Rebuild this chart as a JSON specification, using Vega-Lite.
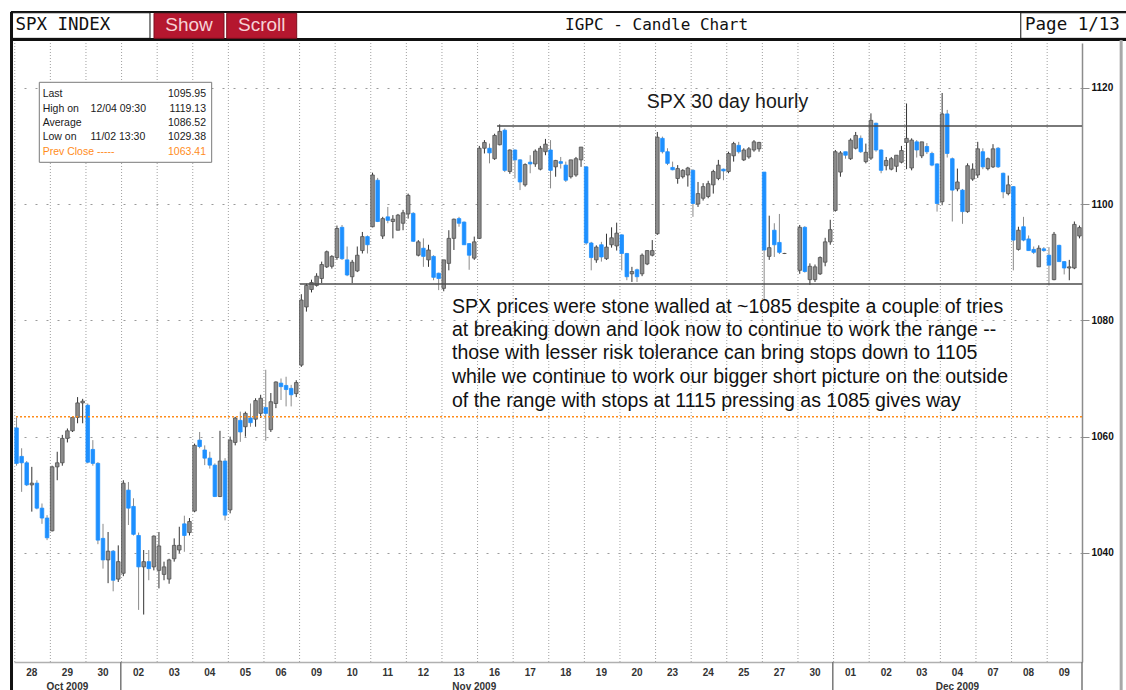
{
"$schema": "https://vega.github.io/schema/vega-lite/v6.json",
"width": 1068, "height": 619,
"autosize": {"type": "none"},
"padding": {"left": 14, "top": 43, "right": 44, "bottom": 28},
"background": "white",
"config": {"view": {"stroke": null}, "font": "Liberation Sans"},
"datasets": {
"candles": [
{"t":"2009-10-28 09:30","o":1061.5,"h":1063.3,"l":1055.0,"c":1055.4},
{"t":"2009-10-28 10:30","o":1056.6,"h":1058.0,"l":1050.5,"c":1055.5},
{"t":"2009-10-28 11:30","o":1055.5,"h":1055.8,"l":1051.5,"c":1051.7},
{"t":"2009-10-28 12:30","o":1051.7,"h":1054.8,"l":1047.1,"c":1052.0},
{"t":"2009-10-28 13:30","o":1052.0,"h":1052.5,"l":1047.5,"c":1047.7},
{"t":"2009-10-28 14:30","o":1047.7,"h":1048.5,"l":1045.0,"c":1046.0},
{"t":"2009-10-28 15:30","o":1046.0,"h":1046.5,"l":1042.2,"c":1042.6},
{"t":"2009-10-29 09:30","o":1043.8,"h":1055.0,"l":1043.7,"c":1054.8},
{"t":"2009-10-29 10:30","o":1054.8,"h":1057.4,"l":1052.5,"c":1055.5},
{"t":"2009-10-29 11:30","o":1055.5,"h":1060.3,"l":1055.0,"c":1059.7},
{"t":"2009-10-29 12:30","o":1059.7,"h":1061.4,"l":1059.0,"c":1061.0},
{"t":"2009-10-29 13:30","o":1061.0,"h":1063.4,"l":1060.8,"c":1063.3},
{"t":"2009-10-29 14:30","o":1063.3,"h":1066.8,"l":1062.3,"c":1065.8},
{"t":"2009-10-29 15:30","o":1065.8,"h":1066.5,"l":1062.3,"c":1066.1},
{"t":"2009-10-30 09:30","o":1065.4,"h":1065.7,"l":1055.4,"c":1055.6},
{"t":"2009-10-30 10:30","o":1057.8,"h":1059.4,"l":1055.0,"c":1055.4},
{"t":"2009-10-30 11:30","o":1055.4,"h":1055.6,"l":1041.5,"c":1042.2},
{"t":"2009-10-30 12:30","o":1042.5,"h":1045.0,"l":1037.3,"c":1038.8},
{"t":"2009-10-30 13:30","o":1038.8,"h":1043.6,"l":1034.8,"c":1040.3},
{"t":"2009-10-30 14:30","o":1040.3,"h":1040.5,"l":1033.4,"c":1035.3},
{"t":"2009-10-30 15:30","o":1035.5,"h":1041.3,"l":1035.0,"c":1038.5},
{"t":"2009-11-02 09:30","o":1036.5,"h":1052.5,"l":1036.0,"c":1052.0},
{"t":"2009-11-02 10:30","o":1050.8,"h":1052.2,"l":1044.8,"c":1047.7},
{"t":"2009-11-02 11:30","o":1048.0,"h":1049.4,"l":1043.0,"c":1043.2},
{"t":"2009-11-02 12:30","o":1043.0,"h":1043.5,"l":1030.2,"c":1037.6},
{"t":"2009-11-02 13:30","o":1037.6,"h":1040.5,"l":1029.4,"c":1038.5},
{"t":"2009-11-02 14:30","o":1038.5,"h":1040.5,"l":1035.3,"c":1037.3},
{"t":"2009-11-02 15:30","o":1037.6,"h":1043.0,"l":1037.0,"c":1042.9},
{"t":"2009-11-03 09:30","o":1037.0,"h":1043.6,"l":1033.9,"c":1041.2},
{"t":"2009-11-03 10:30","o":1036.3,"h":1038.5,"l":1035.3,"c":1037.6},
{"t":"2009-11-03 11:30","o":1035.5,"h":1039.0,"l":1034.7,"c":1038.8},
{"t":"2009-11-03 12:30","o":1039.0,"h":1042.5,"l":1038.5,"c":1041.3},
{"t":"2009-11-03 13:30","o":1040.5,"h":1044.5,"l":1040.0,"c":1041.3},
{"t":"2009-11-03 14:30","o":1045.0,"h":1046.4,"l":1040.2,"c":1043.0},
{"t":"2009-11-03 15:30","o":1043.5,"h":1046.0,"l":1043.0,"c":1045.4},
{"t":"2009-11-04 09:30","o":1047.2,"h":1058.8,"l":1047.0,"c":1058.5},
{"t":"2009-11-04 10:30","o":1059.4,"h":1060.8,"l":1058.0,"c":1058.3},
{"t":"2009-11-04 11:30","o":1057.7,"h":1058.5,"l":1055.1,"c":1056.3},
{"t":"2009-11-04 12:30","o":1056.3,"h":1057.4,"l":1054.5,"c":1055.1},
{"t":"2009-11-04 13:30","o":1055.1,"h":1055.4,"l":1049.6,"c":1049.7},
{"t":"2009-11-04 14:30","o":1049.7,"h":1061.0,"l":1049.6,"c":1055.8},
{"t":"2009-11-04 15:30","o":1055.8,"h":1056.3,"l":1045.6,"c":1046.5},
{"t":"2009-11-05 09:30","o":1047.4,"h":1060.0,"l":1046.8,"c":1059.4},
{"t":"2009-11-05 10:30","o":1059.0,"h":1063.4,"l":1058.5,"c":1063.2},
{"t":"2009-11-05 11:30","o":1062.8,"h":1064.3,"l":1059.1,"c":1060.8},
{"t":"2009-11-05 12:30","o":1061.7,"h":1064.3,"l":1060.0,"c":1064.0},
{"t":"2009-11-05 13:30","o":1063.2,"h":1065.7,"l":1061.7,"c":1062.4},
{"t":"2009-11-05 14:30","o":1063.0,"h":1066.6,"l":1061.7,"c":1066.2},
{"t":"2009-11-05 15:30","o":1064.0,"h":1067.2,"l":1063.2,"c":1066.6},
{"t":"2009-11-06 09:30","o":1065.0,"h":1071.5,"l":1059.3,"c":1064.0},
{"t":"2009-11-06 10:30","o":1061.2,"h":1067.5,"l":1060.8,"c":1066.0},
{"t":"2009-11-06 11:30","o":1065.7,"h":1069.5,"l":1064.9,"c":1069.4},
{"t":"2009-11-06 12:30","o":1069.2,"h":1070.0,"l":1066.3,"c":1068.6},
{"t":"2009-11-06 13:30","o":1068.8,"h":1070.3,"l":1065.2,"c":1068.1},
{"t":"2009-11-06 14:30","o":1068.3,"h":1068.9,"l":1065.2,"c":1067.2},
{"t":"2009-11-06 15:30","o":1067.4,"h":1069.7,"l":1066.8,"c":1069.3},
{"t":"2009-11-09 09:30","o":1072.3,"h":1084.5,"l":1072.0,"c":1083.5},
{"t":"2009-11-09 10:30","o":1082.3,"h":1086.3,"l":1081.5,"c":1086.0},
{"t":"2009-11-09 11:30","o":1085.3,"h":1087.0,"l":1084.8,"c":1086.5},
{"t":"2009-11-09 12:30","o":1086.0,"h":1088.1,"l":1085.8,"c":1087.6},
{"t":"2009-11-09 13:30","o":1087.2,"h":1090.1,"l":1086.4,"c":1089.6},
{"t":"2009-11-09 14:30","o":1089.2,"h":1092.0,"l":1089.0,"c":1091.8},
{"t":"2009-11-09 15:30","o":1089.3,"h":1091.2,"l":1088.9,"c":1091.0},
{"t":"2009-11-10 09:30","o":1090.8,"h":1096.3,"l":1090.4,"c":1095.8},
{"t":"2009-11-10 10:30","o":1096.0,"h":1096.4,"l":1090.4,"c":1090.6},
{"t":"2009-11-10 11:30","o":1090.4,"h":1092.7,"l":1087.6,"c":1087.8},
{"t":"2009-11-10 12:30","o":1087.5,"h":1090.4,"l":1086.4,"c":1090.0},
{"t":"2009-11-10 13:30","o":1088.5,"h":1092.7,"l":1088.3,"c":1091.2},
{"t":"2009-11-10 14:30","o":1092.0,"h":1095.2,"l":1091.5,"c":1094.4},
{"t":"2009-11-10 15:30","o":1094.4,"h":1094.6,"l":1091.5,"c":1093.0},
{"t":"2009-11-11 09:30","o":1096.1,"h":1105.4,"l":1096.0,"c":1105.0},
{"t":"2009-11-11 10:30","o":1104.1,"h":1104.5,"l":1096.9,"c":1097.0},
{"t":"2009-11-11 11:30","o":1094.5,"h":1097.8,"l":1094.0,"c":1097.5},
{"t":"2009-11-11 12:30","o":1097.8,"h":1099.5,"l":1096.7,"c":1097.2},
{"t":"2009-11-11 13:30","o":1097.0,"h":1098.1,"l":1094.1,"c":1097.4},
{"t":"2009-11-11 14:30","o":1095.5,"h":1098.3,"l":1095.5,"c":1098.1},
{"t":"2009-11-11 15:30","o":1096.7,"h":1099.0,"l":1095.5,"c":1098.5},
{"t":"2009-11-12 09:30","o":1098.3,"h":1101.8,"l":1097.5,"c":1101.5},
{"t":"2009-11-12 10:30","o":1098.4,"h":1098.6,"l":1093.5,"c":1093.6},
{"t":"2009-11-12 11:30","o":1091.2,"h":1093.8,"l":1091.0,"c":1093.5},
{"t":"2009-11-12 12:30","o":1092.4,"h":1094.1,"l":1089.2,"c":1091.0},
{"t":"2009-11-12 13:30","o":1090.4,"h":1093.0,"l":1089.2,"c":1092.1},
{"t":"2009-11-12 14:30","o":1091.0,"h":1091.2,"l":1086.9,"c":1087.4},
{"t":"2009-11-12 15:30","o":1088.1,"h":1088.2,"l":1085.2,"c":1087.2},
{"t":"2009-11-13 09:30","o":1085.5,"h":1090.4,"l":1085.0,"c":1090.4},
{"t":"2009-11-13 10:30","o":1089.8,"h":1095.5,"l":1088.6,"c":1094.1},
{"t":"2009-11-13 11:30","o":1094.1,"h":1097.5,"l":1092.1,"c":1097.4},
{"t":"2009-11-13 12:30","o":1097.5,"h":1097.8,"l":1096.1,"c":1096.7},
{"t":"2009-11-13 13:30","o":1096.9,"h":1097.0,"l":1093.0,"c":1093.0},
{"t":"2009-11-13 14:30","o":1093.2,"h":1093.3,"l":1088.7,"c":1091.2},
{"t":"2009-11-13 15:30","o":1090.7,"h":1094.4,"l":1090.4,"c":1093.5},
{"t":"2009-11-16 09:30","o":1094.1,"h":1110.0,"l":1094.0,"c":1109.6},
{"t":"2009-11-16 10:30","o":1109.6,"h":1111.0,"l":1108.7,"c":1110.6},
{"t":"2009-11-16 11:30","o":1109.6,"h":1110.4,"l":1107.0,"c":1108.8},
{"t":"2009-11-16 12:30","o":1107.8,"h":1112.1,"l":1107.6,"c":1111.8},
{"t":"2009-11-16 13:30","o":1110.2,"h":1113.7,"l":1110.1,"c":1112.5},
{"t":"2009-11-16 14:30","o":1112.7,"h":1113.0,"l":1105.5,"c":1105.8},
{"t":"2009-11-16 15:30","o":1105.6,"h":1109.4,"l":1105.2,"c":1109.3},
{"t":"2009-11-17 09:30","o":1109.3,"h":1109.4,"l":1104.4,"c":1107.6},
{"t":"2009-11-17 10:30","o":1107.6,"h":1107.7,"l":1102.4,"c":1103.8},
{"t":"2009-11-17 11:30","o":1103.3,"h":1107.0,"l":1103.0,"c":1106.8},
{"t":"2009-11-17 12:30","o":1107.2,"h":1108.4,"l":1105.3,"c":1106.9},
{"t":"2009-11-17 13:30","o":1106.9,"h":1109.4,"l":1106.4,"c":1109.1},
{"t":"2009-11-17 14:30","o":1106.0,"h":1110.0,"l":1105.8,"c":1109.6},
{"t":"2009-11-17 15:30","o":1109.0,"h":1111.2,"l":1108.4,"c":1110.3},
{"t":"2009-11-18 09:30","o":1109.3,"h":1111.0,"l":1102.7,"c":1105.8},
{"t":"2009-11-18 10:30","o":1106.4,"h":1107.6,"l":1104.7,"c":1107.5},
{"t":"2009-11-18 11:30","o":1107.3,"h":1108.1,"l":1106.1,"c":1107.0},
{"t":"2009-11-18 12:30","o":1106.7,"h":1107.3,"l":1103.8,"c":1104.1},
{"t":"2009-11-18 13:30","o":1104.7,"h":1107.6,"l":1104.4,"c":1107.6},
{"t":"2009-11-18 14:30","o":1105.0,"h":1108.1,"l":1104.7,"c":1107.8},
{"t":"2009-11-18 15:30","o":1107.6,"h":1109.8,"l":1106.4,"c":1109.8},
{"t":"2009-11-19 09:30","o":1106.4,"h":1106.5,"l":1093.0,"c":1093.3},
{"t":"2009-11-19 10:30","o":1093.3,"h":1093.5,"l":1088.6,"c":1090.8},
{"t":"2009-11-19 11:30","o":1090.4,"h":1092.9,"l":1089.9,"c":1092.6},
{"t":"2009-11-19 12:30","o":1093.0,"h":1093.5,"l":1090.1,"c":1090.9},
{"t":"2009-11-19 13:30","o":1090.6,"h":1094.9,"l":1090.4,"c":1092.6},
{"t":"2009-11-19 14:30","o":1093.0,"h":1096.0,"l":1092.5,"c":1094.2},
{"t":"2009-11-19 15:30","o":1092.8,"h":1096.8,"l":1092.0,"c":1095.0},
{"t":"2009-11-20 09:30","o":1094.7,"h":1094.8,"l":1088.6,"c":1091.5},
{"t":"2009-11-20 10:30","o":1091.5,"h":1091.6,"l":1086.9,"c":1087.5},
{"t":"2009-11-20 11:30","o":1088.0,"h":1089.2,"l":1086.6,"c":1088.4},
{"t":"2009-11-20 12:30","o":1088.7,"h":1088.9,"l":1086.6,"c":1087.5},
{"t":"2009-11-20 13:30","o":1088.0,"h":1091.5,"l":1087.6,"c":1091.2},
{"t":"2009-11-20 14:30","o":1089.7,"h":1092.0,"l":1089.5,"c":1092.0},
{"t":"2009-11-20 15:30","o":1091.2,"h":1093.8,"l":1091.0,"c":1092.0},
{"t":"2009-11-23 09:30","o":1094.9,"h":1112.4,"l":1094.7,"c":1111.5},
{"t":"2009-11-23 10:30","o":1111.3,"h":1111.6,"l":1108.7,"c":1109.0},
{"t":"2009-11-23 11:30","o":1109.0,"h":1109.6,"l":1106.7,"c":1107.0},
{"t":"2009-11-23 12:30","o":1106.3,"h":1107.3,"l":1105.8,"c":1105.9},
{"t":"2009-11-23 13:30","o":1104.4,"h":1106.7,"l":1103.5,"c":1106.1},
{"t":"2009-11-23 14:30","o":1104.7,"h":1106.0,"l":1104.4,"c":1105.8},
{"t":"2009-11-23 15:30","o":1105.0,"h":1106.4,"l":1103.0,"c":1106.2},
{"t":"2009-11-24 09:30","o":1105.8,"h":1106.0,"l":1097.8,"c":1100.1},
{"t":"2009-11-24 10:30","o":1100.0,"h":1103.8,"l":1099.5,"c":1101.8},
{"t":"2009-11-24 11:30","o":1101.0,"h":1103.6,"l":1100.6,"c":1103.0},
{"t":"2009-11-24 12:30","o":1101.3,"h":1104.0,"l":1101.0,"c":1103.5},
{"t":"2009-11-24 13:30","o":1103.3,"h":1105.9,"l":1101.8,"c":1105.6},
{"t":"2009-11-24 14:30","o":1104.4,"h":1107.6,"l":1104.1,"c":1106.7},
{"t":"2009-11-24 15:30","o":1106.0,"h":1106.1,"l":1104.1,"c":1105.7},
{"t":"2009-11-25 09:30","o":1105.6,"h":1109.0,"l":1105.3,"c":1108.7},
{"t":"2009-11-25 10:30","o":1108.3,"h":1110.7,"l":1107.3,"c":1110.4},
{"t":"2009-11-25 11:30","o":1110.1,"h":1110.7,"l":1108.7,"c":1109.0},
{"t":"2009-11-25 12:30","o":1107.6,"h":1109.6,"l":1107.4,"c":1109.3},
{"t":"2009-11-25 13:30","o":1108.1,"h":1109.8,"l":1107.8,"c":1109.5},
{"t":"2009-11-25 14:30","o":1109.3,"h":1111.0,"l":1109.0,"c":1110.7},
{"t":"2009-11-25 15:30","o":1109.5,"h":1110.7,"l":1109.0,"c":1110.6},
{"t":"2009-11-27 09:30","o":1105.5,"h":1105.5,"l":1083.7,"c":1092.1},
{"t":"2009-11-27 10:30","o":1091.0,"h":1098.0,"l":1090.4,"c":1092.5},
{"t":"2009-11-27 11:30","o":1095.5,"h":1096.7,"l":1090.9,"c":1093.0},
{"t":"2009-11-27 12:30","o":1093.4,"h":1098.3,"l":1091.4,"c":1091.7},
{"t":"2009-11-27 13:30","o":1091.5,"h":1091.6,"l":1091.4,"c":1091.5},
{"t":"2009-11-27 14:30"},
{"t":"2009-11-27 15:30"},
{"t":"2009-11-30 09:30","o":1088.6,"h":1096.4,"l":1088.0,"c":1096.0},
{"t":"2009-11-30 10:30","o":1096.0,"h":1096.2,"l":1088.2,"c":1088.4},
{"t":"2009-11-30 11:30","o":1087.0,"h":1089.8,"l":1086.1,"c":1089.3},
{"t":"2009-11-30 12:30","o":1087.0,"h":1089.6,"l":1086.6,"c":1089.2},
{"t":"2009-11-30 13:30","o":1088.0,"h":1091.0,"l":1087.8,"c":1090.8},
{"t":"2009-11-30 14:30","o":1090.0,"h":1094.2,"l":1089.3,"c":1093.5},
{"t":"2009-11-30 15:30","o":1093.5,"h":1097.3,"l":1093.0,"c":1095.6},
{"t":"2009-12-01 09:30","o":1098.9,"h":1109.3,"l":1098.7,"c":1109.0},
{"t":"2009-12-01 10:30","o":1105.5,"h":1109.1,"l":1104.7,"c":1108.8},
{"t":"2009-12-01 11:30","o":1109.0,"h":1109.0,"l":1107.8,"c":1108.4},
{"t":"2009-12-01 12:30","o":1107.8,"h":1111.3,"l":1107.6,"c":1111.0},
{"t":"2009-12-01 13:30","o":1109.6,"h":1112.4,"l":1109.4,"c":1111.8},
{"t":"2009-12-01 14:30","o":1111.3,"h":1111.8,"l":1108.8,"c":1109.0},
{"t":"2009-12-01 15:30","o":1107.3,"h":1110.4,"l":1107.0,"c":1108.9},
{"t":"2009-12-02 09:30","o":1107.9,"h":1115.6,"l":1107.6,"c":1114.4},
{"t":"2009-12-02 10:30","o":1113.9,"h":1114.0,"l":1109.0,"c":1109.3},
{"t":"2009-12-02 11:30","o":1109.3,"h":1109.4,"l":1105.3,"c":1105.8},
{"t":"2009-12-02 12:30","o":1106.6,"h":1108.1,"l":1105.8,"c":1107.5},
{"t":"2009-12-02 13:30","o":1106.0,"h":1108.1,"l":1105.8,"c":1107.8},
{"t":"2009-12-02 14:30","o":1106.5,"h":1108.4,"l":1105.5,"c":1108.4},
{"t":"2009-12-02 15:30","o":1107.2,"h":1110.0,"l":1107.0,"c":1109.2},
{"t":"2009-12-03 09:30","o":1110.6,"h":1117.3,"l":1106.0,"c":1111.3},
{"t":"2009-12-03 10:30","o":1106.2,"h":1111.3,"l":1105.8,"c":1111.0},
{"t":"2009-12-03 11:30","o":1110.7,"h":1111.0,"l":1108.0,"c":1109.3},
{"t":"2009-12-03 12:30","o":1108.3,"h":1110.7,"l":1107.9,"c":1110.7},
{"t":"2009-12-03 13:30","o":1109.9,"h":1110.5,"l":1108.6,"c":1109.0},
{"t":"2009-12-03 14:30","o":1108.7,"h":1109.0,"l":1106.5,"c":1106.7},
{"t":"2009-12-03 15:30","o":1106.9,"h":1107.0,"l":1098.7,"c":1100.1},
{"t":"2009-12-04 09:30","o":1100.4,"h":1119.1,"l":1099.8,"c":1115.5},
{"t":"2009-12-04 10:30","o":1115.5,"h":1116.2,"l":1108.0,"c":1108.7},
{"t":"2009-12-04 11:30","o":1107.8,"h":1108.0,"l":1097.0,"c":1102.4},
{"t":"2009-12-04 12:30","o":1102.6,"h":1106.1,"l":1102.2,"c":1103.8},
{"t":"2009-12-04 13:30","o":1102.4,"h":1102.6,"l":1096.6,"c":1098.7},
{"t":"2009-12-04 14:30","o":1098.7,"h":1107.0,"l":1098.5,"c":1106.6},
{"t":"2009-12-04 15:30","o":1104.3,"h":1107.0,"l":1104.0,"c":1106.0},
{"t":"2009-12-07 09:30","o":1105.0,"h":1110.7,"l":1104.5,"c":1109.5},
{"t":"2009-12-07 10:30","o":1109.0,"h":1109.6,"l":1106.0,"c":1106.4},
{"t":"2009-12-07 11:30","o":1106.1,"h":1108.0,"l":1105.8,"c":1107.8},
{"t":"2009-12-07 12:30","o":1106.4,"h":1110.3,"l":1106.2,"c":1109.5},
{"t":"2009-12-07 13:30","o":1109.6,"h":1109.8,"l":1106.2,"c":1106.4},
{"t":"2009-12-07 14:30","o":1105.3,"h":1105.4,"l":1101.0,"c":1102.1},
{"t":"2009-12-07 15:30","o":1101.8,"h":1104.9,"l":1101.5,"c":1103.3},
{"t":"2009-12-08 09:30","o":1103.0,"h":1103.1,"l":1088.6,"c":1093.8},
{"t":"2009-12-08 10:30","o":1092.2,"h":1096.1,"l":1092.0,"c":1095.5},
{"t":"2009-12-08 11:30","o":1096.1,"h":1097.8,"l":1093.6,"c":1093.8},
{"t":"2009-12-08 12:30","o":1094.0,"h":1094.6,"l":1092.0,"c":1092.0},
{"t":"2009-12-08 13:30","o":1092.2,"h":1092.7,"l":1091.4,"c":1091.7},
{"t":"2009-12-08 14:30","o":1089.2,"h":1092.9,"l":1089.2,"c":1092.4},
{"t":"2009-12-08 15:30","o":1092.3,"h":1092.6,"l":1091.8,"c":1092.0},
{"t":"2009-12-09 09:30","o":1091.2,"h":1092.6,"l":1086.0,"c":1089.5},
{"t":"2009-12-09 10:30","o":1087.0,"h":1095.2,"l":1086.9,"c":1094.8},
{"t":"2009-12-09 11:30","o":1092.9,"h":1093.0,"l":1090.1,"c":1090.1},
{"t":"2009-12-09 12:30","o":1090.1,"h":1090.2,"l":1087.9,"c":1089.0},
{"t":"2009-12-09 13:30","o":1089.0,"h":1090.4,"l":1086.9,"c":1089.2},
{"t":"2009-12-09 14:30","o":1089.0,"h":1097.0,"l":1088.8,"c":1096.5},
{"t":"2009-12-09 15:30","o":1094.5,"h":1096.3,"l":1094.1,"c":1095.95}
],
"frames": [
{"box":"header","d1":-0.06,"d2":31.3,"p1":1133.03,"p2":1128.39},
{"box":"SPX INDEX","d1":-0.06,"d2":3.82,"p1":1132.9,"p2":1128.5},
{"box":"Page 1/13","d1":28.28,"d2":31.3,"p1":1132.9,"p2":1128.5},
{"box":"info","d1":0.711,"d2":5.553,"p1":1120.94,"p2":1107.18}
],
"buttons": [
{"label":"Show","d1":3.933,"d2":5.899,"dm":4.916,"p1":1132.81,"p2":1128.5,"pm":1130.75},
{"label":"Scroll","d1":5.975,"d2":7.941,"dm":6.958,"p1":1132.81,"p2":1128.5,"pm":1130.75}
],
"headtext": [
{"label":"SPX INDEX","d":0.04,"p":1130.75},
{"label":"Page 1/13","d":28.4,"p":1130.75}
],
"info": [
{"row":1,"label":"Last","when":"","val":"1095.95","p":1118.93},
{"row":2,"label":"High on","when":"12/04 09:30","val":"1119.13","p":1116.43},
{"row":3,"label":"Average","when":"","val":"1086.52","p":1113.94},
{"row":4,"label":"Low on","when":"11/02 13:30","val":"1029.38","p":1111.45},
{"row":5,"label":"Prev Close -----","when":"","val":"1063.41","p":1108.95}
],
"levels": [
{"level":"resistance","d1":13.57,"d2":30,"p":1113.42},
{"level":"support","d1":8.03,"d2":30,"p":1086.25}
],
"comment": [
{"line":1,"txt":"SPX prices were stone walled at ~1085 despite a couple of tries","p":1082.38},
{"line":2,"txt":"at breaking down and look now to continue to work the range --","p":1078.34},
{"line":3,"txt":"those with lesser risk tolerance can bring stops down to 1105","p":1074.3},
{"line":4,"txt":"while we continue to work our bigger short picture on the outside","p":1070.25},
{"line":5,"txt":"of the range with stops at 1115 pressing as 1085 gives way","p":1066.21}
]
},
"resolve": {"scale": {"x": "independent"}},
"layer": [
{
"data": {"name": "candles"},
"layer": [
{
"mark": {"type": "rule", "color": "#a0a0a0", "strokeDash": [1, 2], "strokeWidth": 1},
"encoding": {
"x": {"field": "t", "type": "ordinal", "bandPosition": 0,
"scale": {"type": "band", "paddingInner": 0.3, "paddingOuter": 0.15},
"axis": {"title": null, "ticks": false, "grid": false, "domainColor": "#b0b0b0", "domainWidth": 1.5,
"values": ["2009-10-28 12:30","2009-10-29 12:30","2009-10-30 12:30","2009-11-02 12:30","2009-11-03 12:30","2009-11-04 12:30","2009-11-05 12:30","2009-11-06 12:30","2009-11-09 12:30","2009-11-10 12:30","2009-11-11 12:30","2009-11-12 12:30","2009-11-13 12:30","2009-11-13 15:30","2009-11-16 12:30","2009-11-17 12:30","2009-11-18 12:30","2009-11-19 12:30","2009-11-20 12:30","2009-11-23 12:30","2009-11-24 12:30","2009-11-25 12:30","2009-11-27 12:30","2009-11-30 12:30","2009-12-01 12:30","2009-12-02 12:30","2009-12-03 12:30","2009-12-04 12:30","2009-12-07 12:30","2009-12-08 12:30","2009-12-09 12:30"],
"labelExpr": "datum.value == '2009-10-29 12:30' ? ['29', 'Oct 2009'] : datum.value == '2009-12-04 12:30' ? ['04', 'Dec 2009'] : datum.value == '2009-11-13 15:30' ? ['', 'Nov 2009'] : slice(datum.value, 8, 10)",
"labelAngle": 0, "labelOverlap": false, "labelFont": "Liberation Sans", "labelFontWeight": "bold", "labelFontSize": 10, "labelColor": "#333333", "labelPadding": 5, "labelLineHeight": 14, "labelBaseline": "top"}},
"strokeOpacity": {"condition": {"test": "slice(datum.t, 11) == '09:30'", "value": 1}, "value": 0}
}
},
{
"mark": {"type": "rule", "strokeWidth": 1},
"encoding": {
"x": {"field": "t", "type": "ordinal", "scale": {"type": "band", "paddingInner": 0.3, "paddingOuter": 0.15}},
"y": {"field": "l", "type": "quantitative", "title": null,
"scale": {"domain": [1021.24, 1127.7], "nice": false, "zero": false},
"axis": {"orient": "right", "title": null, "values": [1040, 1060, 1080, 1100, 1120], "format": "d", "grid": true, "gridDash": [2, 9], "gridColor": "#9a9a9a", "domainColor": "#8c8c8c", "domainWidth": 1.5, "tickColor": "#8c8c8c", "tickSize": 7, "labelFont": "Liberation Sans", "labelFontWeight": "bold", "labelFontSize": 10, "labelColor": "#111111", "labelPadding": 2}},
"y2": {"field": "h"},
"color": {"condition": {"test": "datum.c < datum.o", "value": "#8a8a8a"}, "value": "#333333"}
}
},
{
"mark": {"type": "bar", "strokeWidth": 0.8},
"encoding": {
"x": {"field": "t", "type": "ordinal", "scale": {"type": "band", "paddingInner": 0.3, "paddingOuter": 0.15}},
"y": {"field": "o", "type": "quantitative", "title": null, "scale": {"domain": [1021.24, 1127.7], "nice": false, "zero": false}},
"y2": {"field": "c"},
"fill": {"condition": {"test": "datum.c < datum.o", "value": "#1e90ff"}, "value": "#8c8c8c"},
"stroke": {"condition": {"test": "datum.c < datum.o", "value": "#1e90ff"}, "value": "#505050"}
}
}
]
},
{
"layer": [
{
"data": {"values": [{"series": "Prev Close", "p": 1063.41}]},
"mark": {"type": "rule", "color": "#ff8c1a", "strokeDash": [2, 2], "strokeWidth": 1.5},
"encoding": {"y": {"field": "p", "type": "quantitative", "title": null, "scale": {"domain": [1021.24, 1127.7], "nice": false, "zero": false}}}
},
{
"data": {"name": "levels"},
"mark": {"type": "rule", "color": "#4d4d4d", "strokeWidth": 1.5},
"encoding": {
"x": {"field": "d1", "type": "quantitative", "axis": null, "scale": {"domain": [0, 30], "nice": false, "zero": false}},
"x2": {"field": "d2"},
"y": {"field": "p", "type": "quantitative", "title": null, "scale": {"domain": [1021.24, 1127.7], "nice": false, "zero": false}}
}
},
{
"data": {"name": "frames"},
"mark": {"type": "rect", "fill": "white"},
"encoding": {
"x": {"field": "d1", "type": "quantitative", "axis": null, "scale": {"domain": [0, 30], "nice": false, "zero": false}},
"x2": {"field": "d2"},
"y": {"field": "p1", "type": "quantitative", "title": null, "scale": {"domain": [1021.24, 1127.7], "nice": false, "zero": false}},
"y2": {"field": "p2"},
"stroke": {"condition": {"test": "datum.box == 'info'", "value": "#7a7a7a"}, "value": "#111111"},
"strokeWidth": {"condition": {"test": "datum.box == 'header'", "value": 2}, "value": 1}
}
},
{
"data": {"values": [{"edge": "header base", "d1": -0.06, "d2": 31.3, "p": 1128.3}]},
"mark": {"type": "rule", "color": "#111111", "strokeWidth": 3},
"encoding": {
"x": {"field": "d1", "type": "quantitative", "axis": null, "scale": {"domain": [0, 30], "nice": false, "zero": false}},
"x2": {"field": "d2"},
"y": {"field": "p", "type": "quantitative", "title": null, "scale": {"domain": [1021.24, 1127.7], "nice": false, "zero": false}}
}
},
{
"data": {"values": [{"edge": "left", "d": -0.07, "p1": 1133.03, "p2": 1016.0}]},
"mark": {"type": "rule", "color": "#111111", "strokeWidth": 3},
"encoding": {
"x": {"field": "d", "type": "quantitative", "axis": null, "scale": {"domain": [0, 30], "nice": false, "zero": false}},
"y": {"field": "p1", "type": "quantitative", "title": null, "scale": {"domain": [1021.24, 1127.7], "nice": false, "zero": false}},
"y2": {"field": "p2"}
}
},
{
"data": {"values": [{"edge": "right", "d": 31.1, "p1": 1128.2, "p2": 1016.0}]},
"mark": {"type": "rule", "color": "#a8a8a8", "strokeWidth": 3},
"encoding": {
"x": {"field": "d", "type": "quantitative", "axis": null, "scale": {"domain": [0, 30], "nice": false, "zero": false}},
"y": {"field": "p1", "type": "quantitative", "title": null, "scale": {"domain": [1021.24, 1127.7], "nice": false, "zero": false}},
"y2": {"field": "p2"}
}
},
{
"data": {"values": [{"month": "Nov", "d": 3, "p1": 1021.24, "p2": 1016.0}, {"month": "Dec", "d": 23, "p1": 1021.24, "p2": 1016.0}, {"month": "end", "d": 30, "p1": 1021.24, "p2": 1016.0}]},
"mark": {"type": "rule", "color": "#777777", "strokeWidth": 1.5},
"encoding": {
"x": {"field": "d", "type": "quantitative", "axis": null, "scale": {"domain": [0, 30], "nice": false, "zero": false}},
"y": {"field": "p1", "type": "quantitative", "title": null, "scale": {"domain": [1021.24, 1127.7], "nice": false, "zero": false}},
"y2": {"field": "p2"}
}
},
{
"data": {"name": "buttons"},
"mark": {"type": "rect", "fill": "#b5172f", "stroke": "#7d0e1e", "strokeWidth": 1},
"encoding": {
"x": {"field": "d1", "type": "quantitative", "axis": null, "scale": {"domain": [0, 30], "nice": false, "zero": false}},
"x2": {"field": "d2"},
"y": {"field": "p1", "type": "quantitative", "title": null, "scale": {"domain": [1021.24, 1127.7], "nice": false, "zero": false}},
"y2": {"field": "p2"}
}
},
{
"data": {"name": "buttons"},
"mark": {"type": "text", "font": "Liberation Sans", "fontSize": 19, "color": "#f6d2d6", "align": "center", "baseline": "middle"},
"encoding": {
"x": {"field": "dm", "type": "quantitative", "axis": null, "scale": {"domain": [0, 30], "nice": false, "zero": false}},
"y": {"field": "pm", "type": "quantitative", "title": null, "scale": {"domain": [1021.24, 1127.7], "nice": false, "zero": false}},
"text": {"field": "label"}
}
},
{
"data": {"name": "headtext"},
"mark": {"type": "text", "font": "DejaVu Sans Mono", "fontSize": 17.5, "color": "#111111", "align": "left", "baseline": "middle"},
"encoding": {
"x": {"field": "d", "type": "quantitative", "axis": null, "scale": {"domain": [0, 30], "nice": false, "zero": false}},
"y": {"field": "p", "type": "quantitative", "title": null, "scale": {"domain": [1021.24, 1127.7], "nice": false, "zero": false}},
"text": {"field": "label"}
}
},
{
"data": {"values": [{"title": "IGPC - Candle Chart", "d": 18.05, "p": 1130.75}]},
"mark": {"type": "text", "font": "DejaVu Sans Mono", "fontSize": 16, "color": "#111111", "align": "center", "baseline": "middle"},
"encoding": {
"x": {"field": "d", "type": "quantitative", "axis": null, "scale": {"domain": [0, 30], "nice": false, "zero": false}},
"y": {"field": "p", "type": "quantitative", "title": null, "scale": {"domain": [1021.24, 1127.7], "nice": false, "zero": false}},
"text": {"field": "title"}
}
},
{
"data": {"name": "info"},
"mark": {"type": "text", "font": "Liberation Sans", "fontSize": 10.5, "align": "left", "baseline": "middle"},
"encoding": {
"x": {"datum": 0.806, "type": "quantitative", "axis": null, "scale": {"domain": [0, 30], "nice": false, "zero": false}},
"y": {"field": "p", "type": "quantitative", "title": null, "scale": {"domain": [1021.24, 1127.7], "nice": false, "zero": false}},
"text": {"field": "label"},
"color": {"condition": {"test": "datum.row == 5", "value": "#ff8c1a"}, "value": "#1a1a1a"}
}
},
{
"data": {"name": "info"},
"mark": {"type": "text", "font": "Liberation Sans", "fontSize": 10.5, "align": "left", "baseline": "middle", "color": "#1a1a1a"},
"encoding": {
"x": {"datum": 2.15, "type": "quantitative", "axis": null, "scale": {"domain": [0, 30], "nice": false, "zero": false}},
"y": {"field": "p", "type": "quantitative", "title": null, "scale": {"domain": [1021.24, 1127.7], "nice": false, "zero": false}},
"text": {"field": "when"}
}
},
{
"data": {"name": "info"},
"mark": {"type": "text", "font": "Liberation Sans", "fontSize": 10.5, "align": "right", "baseline": "middle"},
"encoding": {
"x": {"datum": 5.393, "type": "quantitative", "axis": null, "scale": {"domain": [0, 30], "nice": false, "zero": false}},
"y": {"field": "p", "type": "quantitative", "title": null, "scale": {"domain": [1021.24, 1127.7], "nice": false, "zero": false}},
"text": {"field": "val"},
"color": {"condition": {"test": "datum.row == 5", "value": "#ff8c1a"}, "value": "#1a1a1a"}
}
},
{
"data": {"values": [{"note": "SPX 30 day hourly", "d": 20.04, "p": 1117.6}]},
"mark": {"type": "text", "font": "Liberation Sans", "fontSize": 19.5, "color": "#1a1a1a", "align": "center", "baseline": "middle"},
"encoding": {
"x": {"field": "d", "type": "quantitative", "axis": null, "scale": {"domain": [0, 30], "nice": false, "zero": false}},
"y": {"field": "p", "type": "quantitative", "title": null, "scale": {"domain": [1021.24, 1127.7], "nice": false, "zero": false}},
"text": {"field": "note"}
}
},
{
"data": {"name": "comment"},
"mark": {"type": "text", "font": "Liberation Sans", "fontSize": 19.5, "color": "#111111", "align": "left", "baseline": "middle"},
"encoding": {
"x": {"datum": 12.303, "type": "quantitative", "axis": null, "scale": {"domain": [0, 30], "nice": false, "zero": false}},
"y": {"field": "p", "type": "quantitative", "title": null, "scale": {"domain": [1021.24, 1127.7], "nice": false, "zero": false}},
"text": {"field": "txt"}
}
}
]
}
]
}
